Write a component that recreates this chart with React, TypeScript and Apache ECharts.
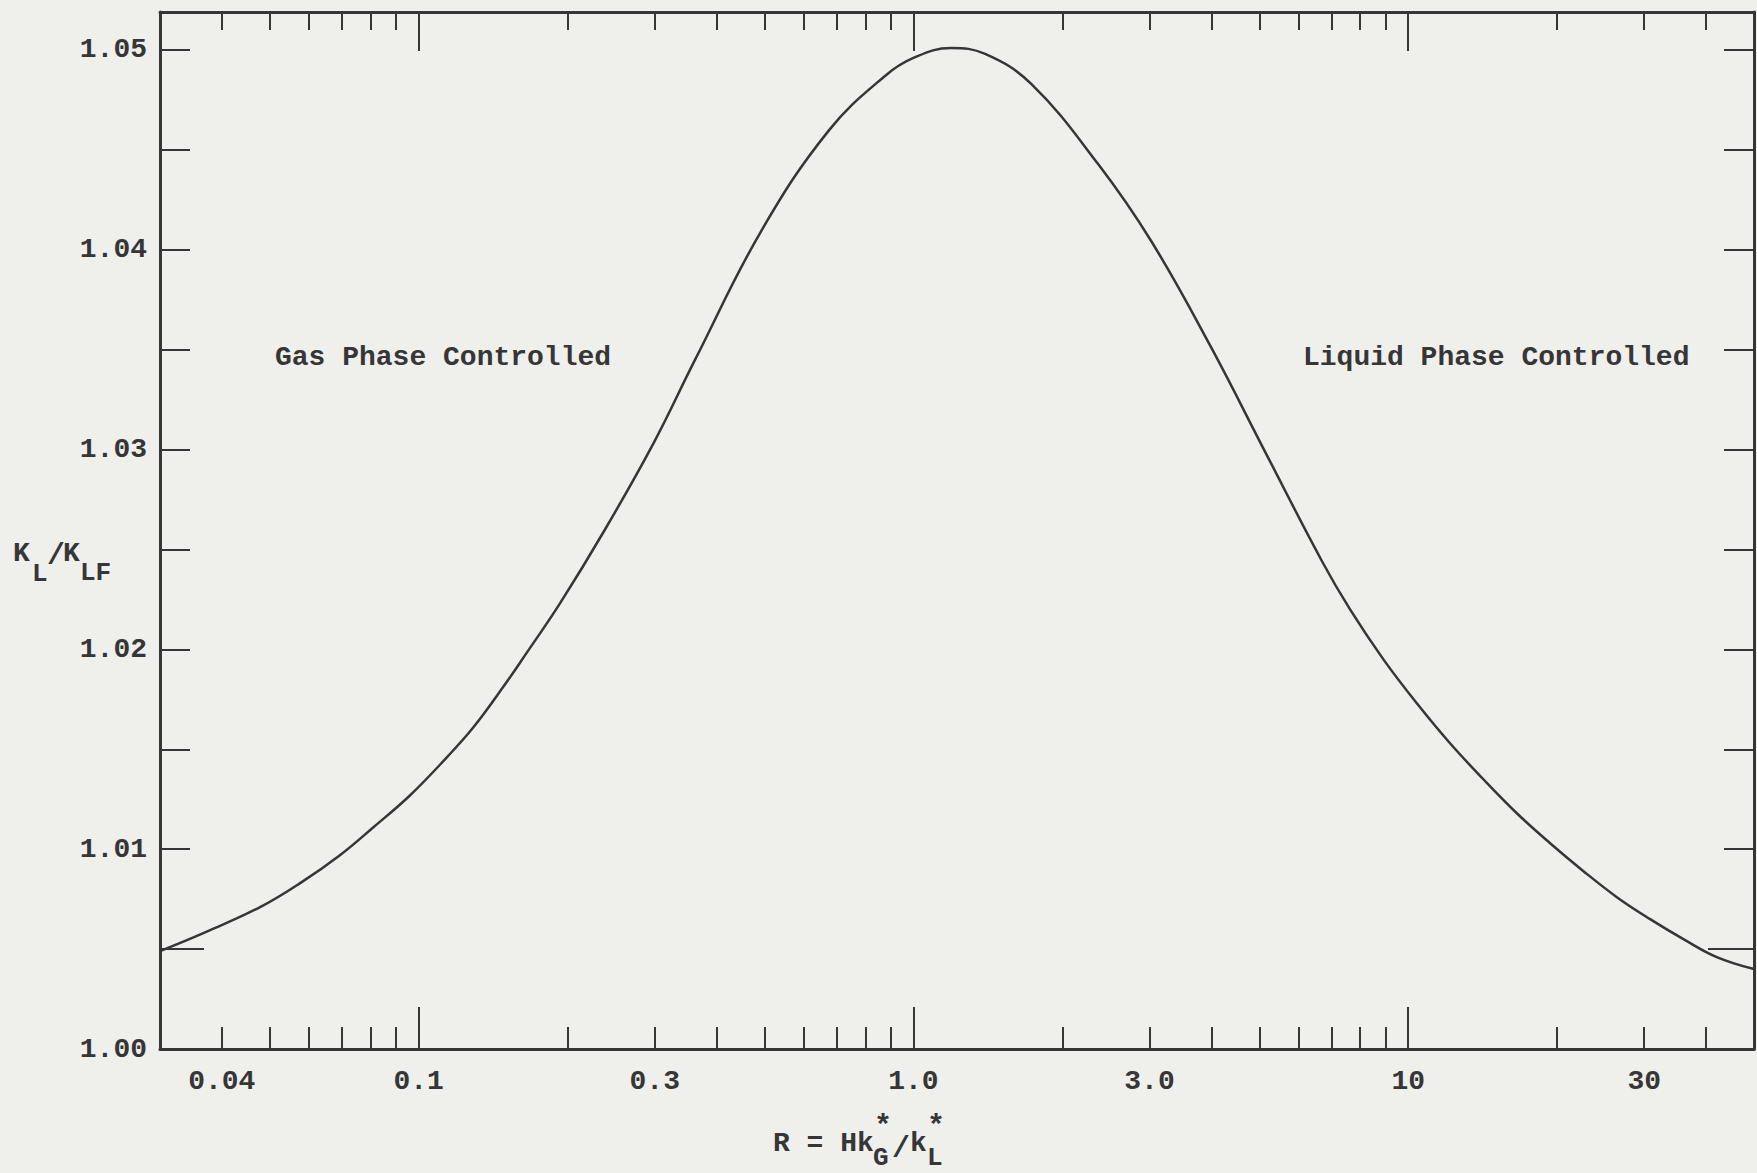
import React, { useEffect, useRef } from "react";
import * as echarts from "echarts";

// ---- data ----
const ratioR = [
  0.03, 0.0367, 0.0478, 0.0576, 0.0693, 0.081, 0.0961, 0.114, 0.129, 0.148, 0.165, 0.193,
  0.238, 0.298, 0.362, 0.494, 0.676, 0.876, 1.0, 1.19, 1.396, 1.73, 2.36, 3.03, 3.98, 5.16,
  6.7, 7.63, 8.91, 10.41, 12.15, 14.19, 16.58, 19.36, 22.61, 26.41, 30.83, 36.0, 42.05, 50,
];
const ratioK = [
  1.0049, 1.0058, 1.0071, 1.0083, 1.0097, 1.0111, 1.0127, 1.0146, 1.0161, 1.0181, 1.0198, 1.0223,
  1.026, 1.0303, 1.0345, 1.041, 1.046, 1.0487, 1.0496, 1.0501, 1.0498, 1.0483, 1.0443, 1.0404, 1.0352, 1.0298,
  1.0244, 1.022, 1.0195, 1.0173, 1.0153, 1.0135, 1.0118, 1.0103, 1.0089, 1.0076, 1.0065, 1.0055, 1.0046, 1.004,
];

const xLabelValues = [0.04, 0.1, 0.3, 1.0, 3.0, 10, 30];
const xLabelTexts = ["0.04", "0.1", "0.3", "1.0", "3.0", "10", "30"];
const xMajorTicks = [0.1, 1, 10];
const xMinorTicks = [
  0.04, 0.05, 0.06, 0.07, 0.08, 0.09,
  0.2, 0.3, 0.4, 0.5, 0.6, 0.7, 0.8, 0.9,
  2, 3, 4, 5, 6, 7, 8, 9,
  20, 30, 40,
];
const yLabelValues = [1.0, 1.01, 1.02, 1.03, 1.04, 1.05];
const yTickValues = [1.01, 1.015, 1.02, 1.025, 1.03, 1.035, 1.04, 1.045, 1.05];
const yLongTick = [1.005];

const X_MIN = 0.03;
const X_MAX = 50;
const Y_MIN = 1.0;
const Y_MAX = 1.0519;

const FONT = '"Liberation Mono", "Courier New", monospace';
const INK = "#363636";
const PAPER = "#efefec";
const WEIGHT = "bold";

function labelFor(v: number): string {
  let best = 0;
  for (let i = 1; i < xLabelValues.length; i++) {
    if (Math.abs(Math.log10(xLabelValues[i]) - Math.log10(v)) < Math.abs(Math.log10(xLabelValues[best]) - Math.log10(v))) best = i;
  }
  return xLabelTexts[best];
}

function xAxisDef(position: "top" | "bottom", ticks: number[], len: number, showLine: boolean, labels: boolean) {
  return {
    type: "log",
    logBase: 10,
    min: X_MIN,
    max: X_MAX,
    position,
    axisLine: { show: showLine, lineStyle: { color: INK, width: 3 } },
    axisTick: { show: true, inside: true, length: len, customValues: ticks, lineStyle: { color: INK, width: 2 } },
    axisLabel: labels
      ? {
          show: true,
          customValues: xLabelValues,
          formatter: (v: number) => labelFor(v),
          margin: 18,
          color: INK,
          fontFamily: FONT,
          fontSize: 28,
          fontWeight: WEIGHT,
        }
      : { show: false },
    splitLine: { show: false },
    minorTick: { show: false },
    minorSplitLine: { show: false },
  };
}

function yAxisDef(position: "left" | "right", ticks: number[], len: number, showLine: boolean, labels: boolean) {
  return {
    type: "value",
    min: Y_MIN,
    max: Y_MAX,
    position,
    axisLine: { show: showLine, lineStyle: { color: INK, width: 3 } },
    axisTick: { show: true, inside: true, length: len, customValues: ticks, lineStyle: { color: INK, width: 2 } },
    axisLabel: labels
      ? {
          show: true,
          customValues: yLabelValues,
          formatter: (v: number) => v.toFixed(2),
          margin: 13,
          color: INK,
          fontFamily: FONT,
          fontSize: 28,
          fontWeight: WEIGHT,
        }
      : { show: false },
    splitLine: { show: false },
  };
}

function txt(text: string, x: number, y: number, size = 28) {
  return {
    type: "text",
    x,
    y,
    silent: true,
    style: {
      text,
      fill: INK,
      fontFamily: FONT,
      fontSize: size,
      fontWeight: WEIGHT,
      textAlign: "left",
      textVerticalAlign: "middle",
    },
  };
}

export default function App() {
  const ref = useRef<HTMLDivElement>(null);

  useEffect(() => {
    if (!ref.current) return;
    const chart = echarts.init(ref.current, null, { renderer: "svg" });
    const data = ratioR.map((r, i) => [r, ratioK[i]]);
    chart.setOption({
      animation: false,
      backgroundColor: PAPER,
      grid: { left: 160, right: 3, top: 12, bottom: 124, containLabel: false, outerBoundsMode: "none" },
      xAxis: [
        xAxisDef("bottom", xMajorTicks, 42, true, true),
        xAxisDef("bottom", xMinorTicks, 22, false, false),
        xAxisDef("top", xMajorTicks, 39, true, false),
        xAxisDef("top", xMinorTicks, 18, false, false),
      ],
      yAxis: [
        yAxisDef("left", yTickValues, 30, true, true),
        yAxisDef("right", yTickValues, 30, true, false),
        yAxisDef("left", yLongTick, 44, false, false),
        yAxisDef("right", yLongTick, 46, false, false),
      ],
      series: [
        {
          type: "line",
          xAxisIndex: 0,
          yAxisIndex: 0,
          data,
          smooth: 0.4,
          showSymbol: false,
          lineStyle: { color: INK, width: 2.5 },
        },
      ],
      graphic: [
        txt("Gas Phase Controlled", 275, 357),
        txt("Liquid Phase Controlled", 1303, 357),
        // y-axis title K_L / K_LF
        txt("K", 13, 553),
        txt("L", 32, 574, 26),
        txt("/", 47, 556, 30),
        txt("K", 63, 553),
        txt("LF", 80, 573, 26),
        // x-axis title R = Hk*_G / k*_L
        txt("R = Hk", 773, 1143),
        txt("*", 874, 1127, 30),
        txt("G", 873, 1158, 26),
        txt("/", 892, 1149, 30),
        txt("k", 910, 1143),
        txt("*", 927, 1127, 30),
        txt("L", 927, 1158, 26),
      ],
    });
    return () => chart.dispose();
  }, []);

  return (
    <div
      ref={ref}
      style={{ position: "fixed", left: 0, top: 0, width: 1757, height: 1173, background: PAPER }}
    />
  );
}
